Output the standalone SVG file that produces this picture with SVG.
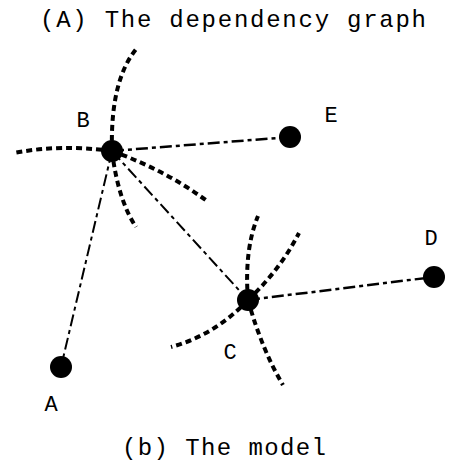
<svg xmlns="http://www.w3.org/2000/svg" width="452" height="464" viewBox="0 0 452 464">
<style>
text{font-family:"Liberation Mono","Courier New",monospace;fill:#000}
.t{font-size:24px}
.l{font-size:22px;text-anchor:middle}
.dd{fill:none;stroke:#000;stroke-width:2;stroke-dasharray:12 4 4 4}
.dt{fill:none;stroke:#000;stroke-width:4;stroke-dasharray:6 4}
.n{fill:#000}
</style>
<rect width="452" height="464" fill="#fff"/>
<text class="t" x="40" y="27" textLength="386" lengthAdjust="spacing">(A) The dependency graph</text>
<text class="t" x="122" y="455" textLength="204" lengthAdjust="spacing">(b) The model</text>
<g id="connectors">
<path class="dd" d="M112,151 L290,137" style="stroke-width:2.5"/>
<path class="dd" d="M112,151 L61,367"/>
<path class="dd" d="M112,151 L248,300"/>
<path class="dd" d="M248,300 L434,277" style="stroke-width:2.5"/>
<path class="dt" d="M112,151 Q110,80 137,48"/>
<path class="dt" d="M112,151 Q60,144 14,153"/>
<path class="dt" d="M112,151 Q165,170 207,201"/>
<path class="dt" d="M112,151 Q118,200 136,227"/>
<path class="dt" d="M248,300 Q244,250 258,216"/>
<path class="dt" d="M248,300 Q280,270 299,233"/>
<path class="dt" d="M248,300 Q215,335 171,347"/>
<path class="dt" d="M248,300 Q262,350 283,385"/>
</g>
<g id="node-B"><circle class="n" cx="112" cy="151" r="11"/><text class="l" x="83" y="127">B</text></g>
<g id="node-E"><circle class="n" cx="290" cy="137" r="11"/><text class="l" x="331" y="122">E</text></g>
<g id="node-C"><circle class="n" cx="248" cy="300" r="11"/><text class="l" x="230" y="359">C</text></g>
<g id="node-D"><circle class="n" cx="434" cy="277" r="11"/><text class="l" x="431" y="245">D</text></g>
<g id="node-A"><circle class="n" cx="61" cy="367" r="11"/><text class="l" x="51" y="411">A</text></g>
</svg>
